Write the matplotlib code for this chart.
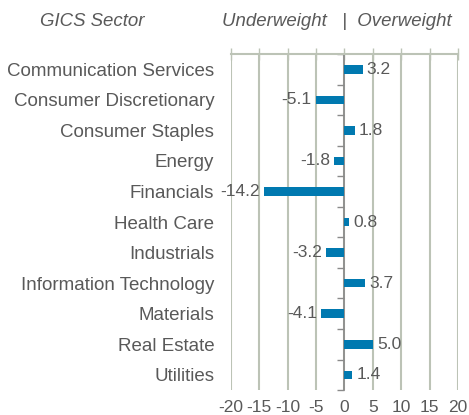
import numpy as np
import matplotlib
matplotlib.use('Agg')
import matplotlib.pyplot as plt

# Datos del gráfico
sectores = ['Communication Services', 'Consumer Discretionary', 'Consumer Staples',
            'Energy', 'Financials', 'Health Care', 'Industrials',
            'Information Technology', 'Materials', 'Real Estate', 'Utilities']
valores = [3.2, -5.1, 1.8, -1.8, -14.2, 0.8, -3.2, 3.7, -4.1, 5.0, 1.4]
ticks_x = [-20, -15, -10, -5, 0, 5, 10, 15, 20]

plt.rcParams['font.family'] = ['Liberation Sans', 'DejaVu Sans']
gris_texto = '#595959'
color_barra = '#0079b0'
color_rejilla = '#bcc3b6'

fig = plt.figure(figsize=(4.69, 4.15), dpi=100)
ax = fig.add_axes([0.4925, 0.060, 0.484, 0.810])

y = np.arange(len(sectores))
ax.barh(y, valores, height=0.28, color=color_barra, zorder=3)

ax.set_xlim(ticks_x[0], ticks_x[-1])
ax.set_ylim(len(sectores) - 0.5, -0.5)

# Rejilla vertical
ax.set_xticks(ticks_x)
ax.set_xticklabels([str(t) for t in ticks_x])
ax.grid(axis='x', color=color_rejilla, linewidth=1.5, zorder=0)
ax.tick_params(axis='x', top=True, bottom=False, labeltop=False, labelbottom=True,
               direction='inout', length=8, width=1, color=color_rejilla,
               labelsize=12.5, labelcolor=gris_texto, pad=3)

# Eje en cero con marcas entre categorías
for lado in ['right', 'bottom']:
    ax.spines[lado].set_visible(False)
ax.spines['top'].set_color(color_rejilla)
ax.spines['top'].set_linewidth(1.5)
ax.spines['left'].set_position(('data', 0))
ax.spines['left'].set_color('#8a8a8a')
ax.spines['left'].set_linewidth(1.2)
ax.set_yticks(y)
ax.set_yticklabels([])
ax.set_yticks(np.arange(-0.5, len(sectores)), minor=True)
ax.tick_params(axis='y', which='major', length=0)
ax.tick_params(axis='y', which='minor', direction='out', length=5, width=1, color='#8a8a8a')

# Etiquetas de categoría
sec = ax.secondary_yaxis('left')
sec.set_yticks(y)
sec.set_yticklabels(sectores)
sec.tick_params(length=0, labelsize=13.5, labelcolor=gris_texto, pad=12)
sec.spines['left'].set_visible(False)

# Etiquetas de valores
for yi, v in zip(y, valores):
    if v >= 0:
        ax.annotate(f'{v:.1f}', (v, yi), xytext=(3, 0), textcoords='offset points',
                    ha='left', va='center', fontsize=12.5, color=gris_texto, zorder=4)
    else:
        ax.annotate(f'{v:.1f}', (v, yi), xytext=(-3, 0), textcoords='offset points',
                    ha='right', va='center', fontsize=12.5, color=gris_texto, zorder=4)

# Encabezados
fig.text(40 / 469, 1 - 22 / 415, 'GICS Sector', style='italic', fontsize=13.4,
         color=gris_texto, ha='left', va='center')
fig.text(452 / 469, 1 - 22 / 415, 'Underweight   |  Overweight', style='italic',
         fontsize=13.4, color=gris_texto, ha='right', va='center')

fig.savefig('out.png', dpi=100)
